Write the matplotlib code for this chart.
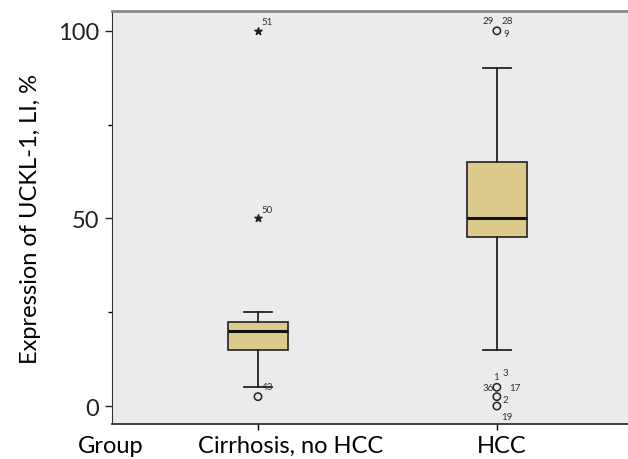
import numpy as np
import matplotlib.pyplot as plt
import matplotlib.transforms as mtransforms
from matplotlib.ticker import MultipleLocator

# Data
groups = ["Cirrhosis, no HCC", "HCC"]
q1 = [15, 45]
median = [20, 50]
q3 = [22.5, 65]
whisker_low = [5, 15]
whisker_high = [25, 90]

# outliers (circles) and extremes (stars)
circle_group = [1, 2, 2, 2, 2]
circle_value = [2.5, 100, 5, 2.5, 0]
star_group = [1, 1]
star_value = [100, 50]
star_labels = ["51", "50"]

# case numbers next to the points: (group, value, label, dx px, dy px)
case_group = [1, 2, 2, 2, 2, 2, 2, 2, 2, 2]
case_value = [2.5, 100, 100, 100, 5, 5, 5, 5, 2.5, 0]
case_labels = ["43", "29", "28", "9", "1", "3", "36", "17", "2", "19"]
case_dx = [10, -9, 10, 9, -1, 9, -9, 18, 9, 10]
case_dy = [10, 10, 10, -3, 11, 15, 0, 0, -3, -10]

plt.rcParams['font.family'] = ['Lato', 'DejaVu Sans']

fig = plt.figure(figsize=(6.28, 4.60), dpi=100)
ax = fig.add_axes([0.178, 0.076, 0.83, 0.898])
ax.set_facecolor("#ebebeb")

stats = []
for i in range(len(groups)):
    stats.append(dict(med=median[i], q1=q1[i], q3=q3[i],
                      whislo=whisker_low[i], whishi=whisker_high[i], fliers=[]))

ax.bxp(stats, positions=[1, 2], widths=0.25, showfliers=False, patch_artist=True,
       boxprops=dict(facecolor="#dccb8c", edgecolor="#222222", linewidth=1.2),
       medianprops=dict(color="#111111", linewidth=2.2),
       whiskerprops=dict(color="#222222", linewidth=1.3),
       capprops=dict(color="#222222", linewidth=1.3),
       capwidths=0.12)

ax.scatter(circle_group, circle_value, s=28, facecolors="none", edgecolors="#222222",
           linewidths=1.1, zorder=4)
ax.scatter(star_group, star_value, s=30, marker="*", color="#222222", zorder=4)

for g, v, lab, dx, dy in zip(case_group, case_value, case_labels, case_dx, case_dy):
    ax.annotate(lab, (g, v), xytext=(dx, dy), textcoords="offset pixels",
                ha="center", va="center", fontsize=7, color="#333333")
for g, v, lab in zip(star_group, star_value, star_labels):
    ax.annotate(lab, (g, v), xytext=(9, 9), textcoords="offset pixels",
                ha="center", va="center", fontsize=7, color="#333333")

ax.set_xlim(0.388, 2.57)
ax.set_ylim(-4.8, 105.3)
ax.set_yticks([0, 50, 100])
ax.yaxis.set_minor_locator(MultipleLocator(25))
ax.set_xticks([1, 2])
ax.set_xticklabels(groups, fontsize=17)
ax.tick_params(axis="y", labelsize=17, length=5, width=1, colors="#222222", pad=4)
ax.tick_params(axis="y", which="minor", length=3, width=1)
ax.tick_params(axis="x", length=4, width=1, pad=4)
ax.set_ylabel("Expression of UCKL-1, LI, %", fontsize=17, labelpad=12)

# the group names sit a little right of their ticks in the original
for lab, shift in zip(ax.get_xticklabels(), [33, 5]):
    lab.set_transform(lab.get_transform() +
                      mtransforms.ScaledTranslation(shift / 100, 0, fig.dpi_scale_trans))

ax.spines["right"].set_visible(False)
ax.spines["top"].set_color("#8a8a8a")
ax.spines["top"].set_linewidth(2)
ax.spines["left"].set_color("#333333")
ax.spines["bottom"].set_color("#333333")
ax.spines["bottom"].set_linewidth(1.3)

fig.text(111 / 628, 1 - 447 / 460, "Group", ha="center", va="center", fontsize=17)

fig.savefig("out.png", dpi=100)
